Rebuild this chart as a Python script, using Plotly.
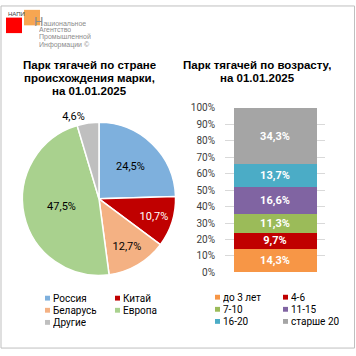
import plotly.graph_objects as go

# ---- data ----
pie_labels = ["Россия", "Китай", "Беларусь", "Европа", "Другие"]
pie_values = [24.5, 10.7, 12.7, 47.5, 4.6]
pie_colors = ["#7EB0DD", "#C00000", "#F4B183", "#A9D18E", "#BFBFBF"]
pie_text_colors = ["#000000", "#FFFFFF", "#000000", "#000000", "#000000"]

age_labels = ["до 3 лет", "4-6", "7-10", "11-15", "16-20", "старше 20"]
age_values = [14.3, 9.7, 11.3, 16.6, 13.7, 34.3]
age_colors = ["#F79646", "#C00000", "#9BBB59", "#8064A2", "#4BACC6", "#A5A5A5"]

y_ticks = [0, 10, 20, 30, 40, 50, 60, 70, 80, 90, 100]
y_tick_labels = [f"{v}%" for v in y_ticks]

title_left = ["Парк тягачей по стране", "происхождения марки,", "на 01.01.2025"]
title_right = ["Парк тягачей по возрасту,", "на 01.01.2025"]

W = H = 356

def fmt(v):
    return f"{v:.1f}%".replace(".", ",")

def px(x):
    return x / W

def py(y):
    return 1 - y / H

fig = go.Figure()

fig.add_trace(go.Pie(
    labels=pie_labels,
    values=pie_values,
    text=[fmt(v) for v in pie_values],
    textinfo="text",
    textposition=["inside", "inside", "inside", "inside", "outside"],
    insidetextorientation="horizontal",
    textfont=dict(family="Roboto", size=11, color=pie_text_colors),
    outsidetextfont=dict(family="Roboto", size=11, color="#000000"),
    marker=dict(colors=pie_colors, line=dict(color="#FFFFFF", width=1.5)),
    sort=False,
    direction="clockwise",
    rotation=0,
    showlegend=False,
    hoverinfo="label+percent",
    domain=dict(x=[px(20), px(178)], y=[py(279), py(121)]),
))

for lab, val, col in zip(age_labels, age_values, age_colors):
    fig.add_trace(go.Bar(
        x=["a"], y=[val / 100],
        name=lab,
        marker=dict(color=col, line=dict(width=0)),
        text=[fmt(val)],
        textposition="inside",
        insidetextanchor="middle",
        constraintext="none",
        textfont=dict(family="Roboto", size=11, color="#FFFFFF", weight="bold"),
        width=0.83,
        showlegend=False,
        xaxis="x", yaxis="y",
    ))

annotations = []
for t, yy in zip(title_left, [62, 75.5, 89]):
    annotations.append(dict(text="<b>" + t + "</b>", x=px(89), y=py(yy), xref="paper", yref="paper",
                            xanchor="center", yanchor="middle", showarrow=False,
                            height=12, borderpad=0,
                            font=dict(family="Liberation Sans", size=11.5, color="#000000")))
for t, yy in zip(title_right, [62, 75.5]):
    annotations.append(dict(text="<b>" + t + "</b>", x=px(257), y=py(yy), xref="paper", yref="paper",
                            xanchor="center", yanchor="middle", showarrow=False,
                            height=12, borderpad=0,
                            font=dict(family="Liberation Sans", size=11.5, color="#000000")))

shapes = [
    dict(type="rect", xref="paper", yref="paper", x0=px(1), x1=px(354.5), y0=py(354), y1=py(1),
         line=dict(color="#BFBFBF", width=1), fillcolor="rgba(0,0,0,0)"),
    # logo squares
    dict(type="rect", xref="paper", yref="paper", x0=px(6), x1=px(22), y0=py(29), y1=py(13),
         line=dict(width=0), fillcolor="#FF0000"),
    dict(type="rect", xref="paper", yref="paper", x0=px(24), x1=px(40), y0=py(21), y1=py(5),
         line=dict(width=0), fillcolor="rgba(246,150,50,0.85)"),
]

annotations.append(dict(text="НАПИ", x=px(6), y=py(4), xref="paper", yref="paper",
                        xanchor="left", yanchor="top", showarrow=False,
                        font=dict(family="Liberation Sans", size=6, color="#404040")))
logo_lines = ["<span style='font-size:13px'>Н</span>ациональное", "Агентство", "Промышленной", "Информации ©"]
logo_y = [16, 25, 33, 41]
for i, (t, yy) in enumerate(zip(logo_lines, logo_y)):
    annotations.append(dict(text=t, x=px(33 if i == 0 else 38), y=py(yy), xref="paper", yref="paper",
                            xanchor="left", yanchor="middle", showarrow=False,
                            height=10 if i == 0 else 8, borderpad=0,
                            font=dict(family="Liberation Sans", size=7, color="#8C8C8C")))

# legends built from the data arrays
def add_legend(labels, colors, col_x, row_y):
    for i, (lab, col) in enumerate(zip(labels, colors)):
        cx = col_x[i % 2]
        cy = row_y[i // 2]
        shapes.append(dict(type="rect", xref="paper", yref="paper",
                           x0=px(cx), x1=px(cx + 5), y0=py(cy + 2.5), y1=py(cy - 2.5),
                           line=dict(width=0), fillcolor=col))
        annotations.append(dict(text=lab, x=px(cx + 7), y=py(cy), xref="paper", yref="paper",
                                xanchor="left", yanchor="middle", showarrow=False,
                                height=11, borderpad=0,
                                font=dict(family="Roboto", size=10, color="#000000")))

add_legend(pie_labels, pie_colors, [45, 115], [302.5, 315, 327.5])
add_legend(age_labels, age_colors, [215, 283], [301.5, 314, 326.5])

fig.update_layout(
    width=W, height=H,
    margin=dict(l=0, r=0, t=0, b=0),
    paper_bgcolor="#FFFFFF", plot_bgcolor="#FFFFFF",
    barmode="stack",
    xaxis=dict(domain=[px(225), px(325)], showticklabels=False, showgrid=False,
               zeroline=False, showline=False, fixedrange=True),
    yaxis=dict(domain=[py(276), py(106)], range=[0, 1], tickvals=[v / 100 for v in y_ticks],
               ticktext=y_tick_labels, showgrid=True, gridcolor="#D9D9D9", gridwidth=1,
               zeroline=False, showline=False, ticks="", ticklabelstandoff=9,
               tickfont=dict(family="Roboto", size=10, color="#404040"), fixedrange=True),
    annotations=annotations,
    shapes=shapes,
    font=dict(family="Roboto"),
)

fig.write_html("out.html", config={"displayModeBar": False, "staticPlot": True},
               post_script="document.body.style.margin='0';document.body.style.overflow='hidden';")
